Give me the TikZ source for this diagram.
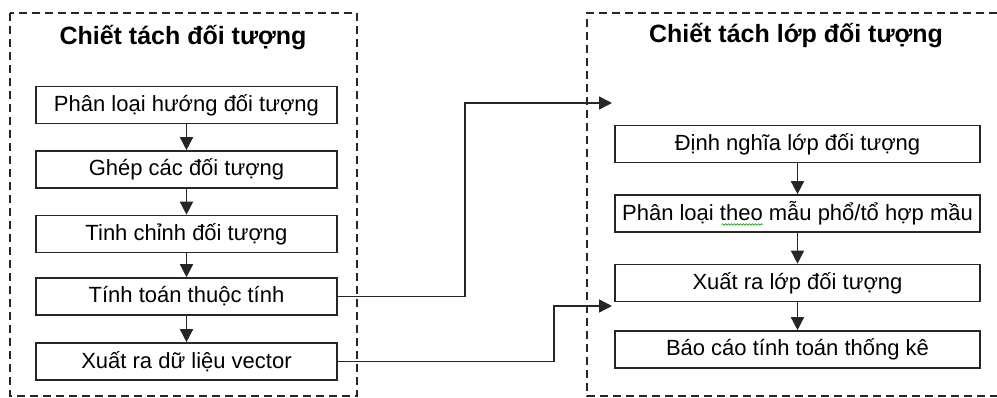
\documentclass[tikz,border=0pt]{standalone}
\usepackage{fontspec}
\setmainfont{Liberation Sans}
\usetikzlibrary{arrows.meta,decorations.pathmorphing}
\begin{document}
\begin{tikzpicture}[x=1pt,y=-1pt,
  frame/.style={draw=black!85,line width=1.4pt,dash pattern=on 8pt off 5pt},
  stepbox/.style={draw=black!85,line width=1.6pt,minimum height=37pt,inner sep=0pt,
    font=\fontsize{22}{24}\selectfont},
  ttl/.style={anchor=base,font=\bfseries\fontsize{25}{28}\selectfont},
  link/.style={draw=black!85,line width=1.5pt,-{Triangle[length=13pt,width=13pt]}}]
\useasboundingbox (0,0) rectangle (997,398);
% outer dashed frames (the right one runs past the page edge)
\draw[frame] (10,13) rectangle (357,396);
\draw[frame] (1010,13) -- (587,13) -- (587,396) -- (1010,396);
\node[ttl] (t1) at (183,45) {Chiết tách đối tượng};
\node[ttl] (t2) at (796,43) {Chiết tách lớp đối tượng};
% left column
\node[stepbox,minimum width=301pt] (a1) at (186.5,105) {Phân loại hướng đối tượng};
\node[stepbox,minimum width=301pt] (a2) at (186.5,169.5) {Ghép các đối tượng};
\node[stepbox,minimum width=301pt] (a3) at (186.5,234) {Tinh chỉnh đối tượng};
\node[stepbox,minimum width=301pt] (a4) at (186.5,296.5) {Tính toán thuộc tính};
\node[stepbox,minimum width=301pt] (a5) at (186.5,361.5) {Xuất ra dữ liệu vector};
% right column
\node[stepbox,minimum width=365pt] (b1) at (797.5,144) {Định nghĩa lớp đối tượng};
\node[stepbox,minimum width=365pt] (b2) at (797.5,213.5) {Phân loại theo mẫu phổ/tổ hợp mầu};
\node[stepbox,minimum width=365pt] (b3) at (797.5,283) {Xuất ra lớp đối tượng};
\node[stepbox,minimum width=365pt] (b4) at (797.5,349.5) {Báo cáo tính toán thống kê};
% spell-check squiggle under "theo"
\draw[green!55!black,line width=0.6pt,decorate,
  decoration={snake,amplitude=0.8pt,segment length=3pt}]
  ([xshift=-76pt,yshift=-11pt]b2.center) -- ([xshift=-35pt,yshift=-11pt]b2.center);
% vertical flow arrows
\foreach \u/\v in {a1/a2,a2/a3,a3/a4,a4/a5,b1/b2,b2/b3,b3/b4}
  \draw[link] (\u.south) -- (\v.north);
% cross links between the frames
\coordinate (e1) at (612,103);
\coordinate (e2) at (612,306);
\draw[link] (a4.east) -- (465,296.5) -- (465,103) -- (e1);
\draw[link] (a5.east) -- (554,361.5) -- (554,306) -- (e2);
\end{tikzpicture}
\end{document}
